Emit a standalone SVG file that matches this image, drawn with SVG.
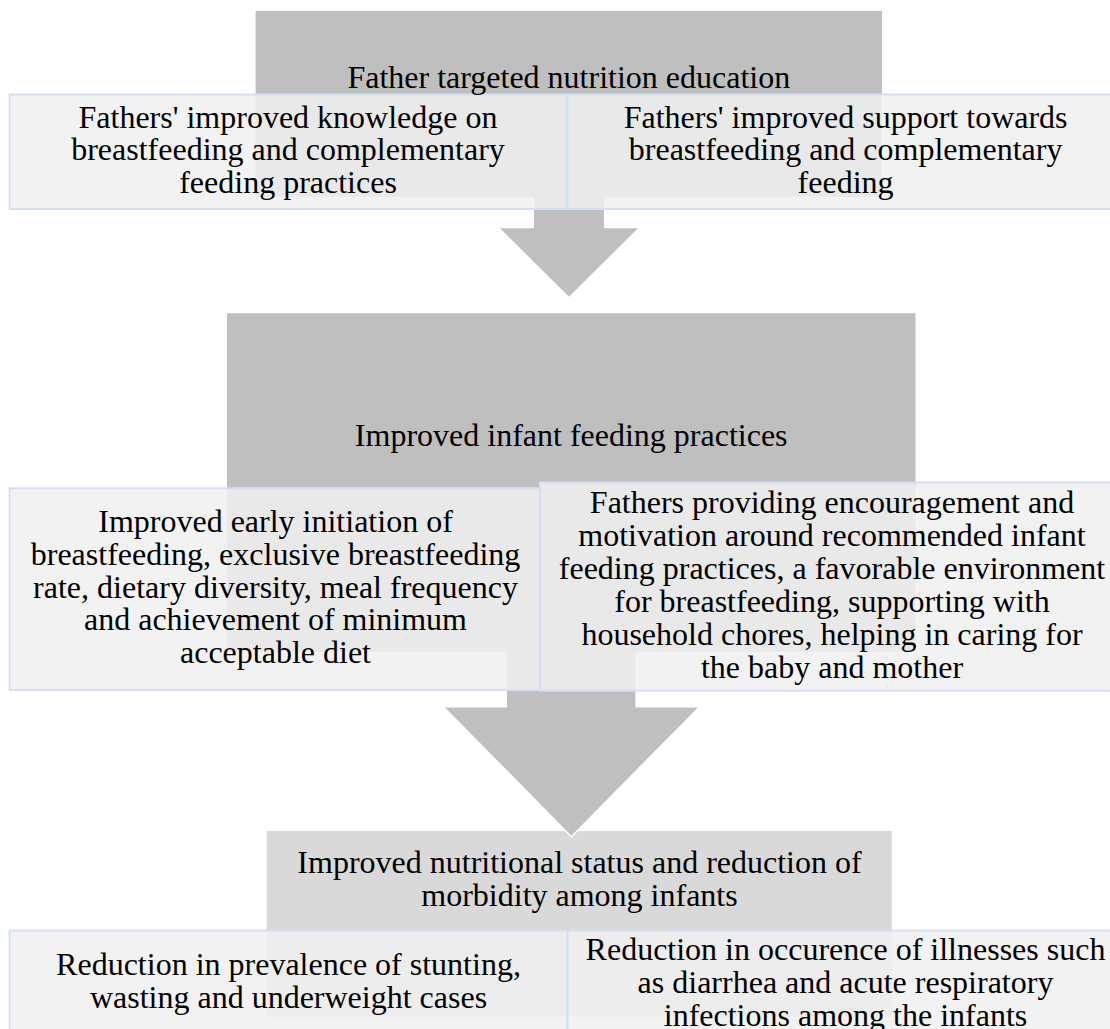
<svg xmlns="http://www.w3.org/2000/svg" width="1110" height="1029" viewBox="0 0 1110 1029">
<style>
.bg{fill:#ffffff}
.head{fill:#bfbfbf}
.head3{fill:#d9d9d9}
.arrow{fill:#bfbfbf}
.edge{fill:none;stroke:#ffffff;stroke-width:1.5}
.box{fill:#f0f0f0;fill-opacity:0.85;stroke:#d4dff0;stroke-width:2}
text{font-family:"Liberation Serif","Times New Roman",serif;font-size:32px;fill:#000000;text-anchor:middle}
</style>
<rect class="bg" x="0" y="0" width="1110" height="1029"/>

<g id="level1">
  <rect id="level1-head" class="head" x="255.6" y="11" width="626.4" height="185.7"/>
</g>
<g id="level2">
  <rect id="level2-head" class="head" x="227" y="313.3" width="688.5" height="338.4"/>
</g>
<g id="level3">
  <rect id="level3-head" class="head3" x="266.7" y="831" width="625.3" height="185.7"/>
</g>

<g id="connectors">
  <polygon class="arrow" points="534,190 604,190 604,228.3 638,228.3 569,296.7 500,228.3 534,228.3"/>
  <polygon class="arrow" points="507,645 635.4,645 635.4,707.5 699,707.5 571.4,836.7 444,707.5 507,707.5"/>
  <polyline class="edge" points="444,707.5 571.4,836.7 699,707.5"/>
</g>

<g id="box-knowledge">
  <rect class="box" x="9.6" y="94.5" width="556.9" height="114.5"/>
  <text x="288" y="127.7">Fathers' improved knowledge on</text>
  <text x="288" y="160.3">breastfeeding and complementary</text>
  <text x="288" y="192.9">feeding practices</text>
</g>
<g id="box-support">
  <rect class="box" x="567.3" y="94.5" width="557" height="114.5"/>
  <text x="845.6" y="127.7">Fathers' improved support towards</text>
  <text x="845.6" y="160.3">breastfeeding and complementary</text>
  <text x="845.6" y="192.9">feeding</text>
</g>
<g id="node-education">
  <text x="568.8" y="88.3">Father targeted nutrition education</text>
</g>

<g id="box-practices">
  <rect class="box" x="9.6" y="488.3" width="530.4" height="201.7"/>
  <text x="275.5" y="531.7">Improved early initiation of</text>
  <text x="275.5" y="564.6">breastfeeding, exclusive breastfeeding</text>
  <text x="275.5" y="597.5">rate, dietary diversity, meal frequency</text>
  <text x="275.5" y="630.4">and achievement of minimum</text>
  <text x="275.5" y="663.3">acceptable diet</text>
</g>
<g id="box-encouragement">
  <rect class="box" x="540" y="482.5" width="584" height="208.2"/>
  <text x="832" y="513.3">Fathers providing encouragement and</text>
  <text x="832" y="546.3">motivation around recommended infant</text>
  <text x="832" y="579.3">feeding practices, a favorable environment</text>
  <text x="832" y="612.3">for breastfeeding, supporting with</text>
  <text x="832" y="645.3">household chores, helping in caring for</text>
  <text x="832" y="678.3">the baby and mother</text>
</g>
<g id="node-infant-feeding">
  <text x="571.2" y="445.7">Improved infant feeding practices</text>
</g>

<g id="node-nutritional-status">
  <text x="579.5" y="873.3">Improved nutritional status and reduction of</text>
  <text x="579.5" y="905.9">morbidity among infants</text>
</g>
<g id="box-stunting">
  <rect class="box" x="9.6" y="930.6" width="557.9" height="120"/>
  <text x="288.5" y="975">Reduction in prevalence of stunting,</text>
  <text x="288.5" y="1007.7">wasting and underweight cases</text>
</g>
<g id="box-illnesses">
  <rect class="box" x="567.5" y="930.6" width="556.5" height="120"/>
  <text x="845.5" y="960">Reduction in occurence of illnesses such</text>
  <text x="845.5" y="992.8">as diarrhea and acute respiratory</text>
  <text x="845.5" y="1025.6">infections among the infants</text>
</g>
</svg>
